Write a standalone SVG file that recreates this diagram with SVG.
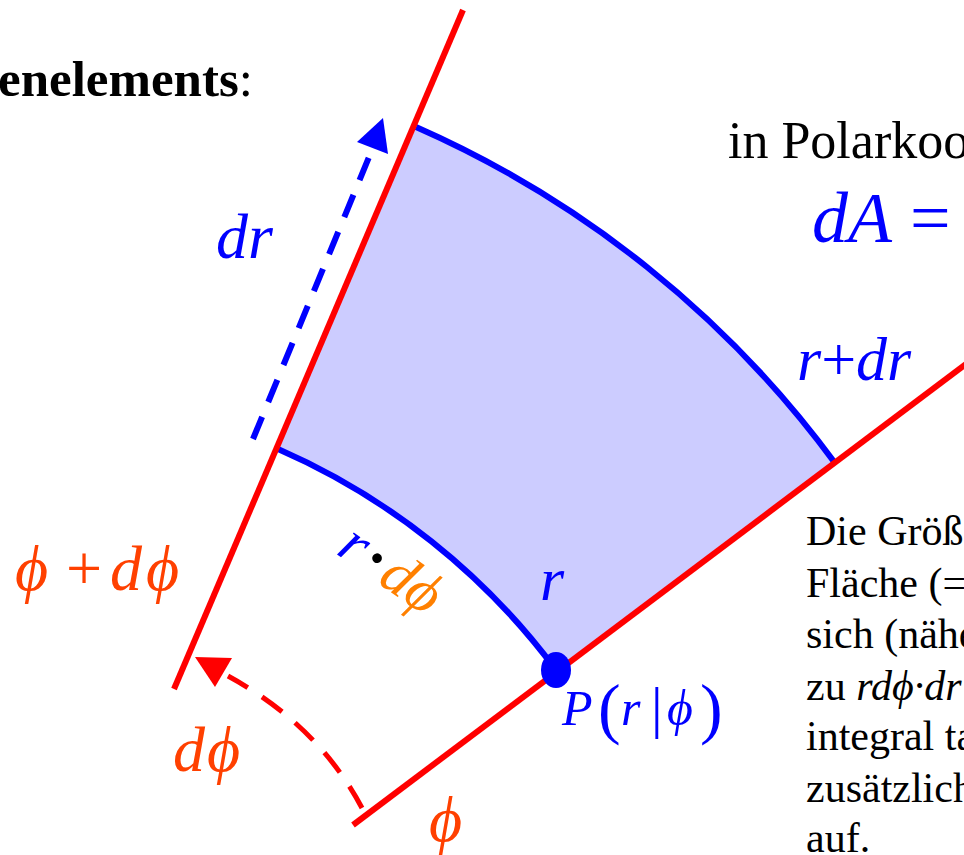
<svg xmlns="http://www.w3.org/2000/svg" width="964" height="855" viewBox="0 0 964 855">
<style>
.t{font-family:"Liberation Serif","DejaVu Serif",serif}
.i{font-style:italic}
.blue{fill:#0000ff}
.red{fill:#ff4000}
.org{fill:#ff8000}
.blk{fill:#000000}
.rl{stroke:#ff0000;stroke-width:6;fill:none}
.bl{stroke:#0000ff;stroke-width:6;fill:none}
</style>
<rect width="964" height="855" fill="#ffffff"/>
<g id="area-element">
<path d="M278,449 L416,127 A1040,1040 0 0 1 835,463 L556,670 A691,691 0 0 0 278,449 Z" fill="#ccccff"/>
<path class="bl" d="M416,127 A1040,1040 0 0 1 835,463"/>
<path class="bl" d="M278,449 A691,691 0 0 1 556,670"/>
</g>
<g id="axes">
<line class="rl" x1="463" y1="10" x2="174" y2="689"/>
<line class="rl" x1="353" y1="825" x2="970" y2="361"/>
</g>
<g id="connectors">
<line x1="253" y1="439" x2="376" y2="140" stroke="#0000ff" stroke-width="6" stroke-dasharray="24 16"/>
<polygon points="383,118 357,142 388,154" fill="#0000ff"/>
<path d="M362,808 Q318,725 228,676" fill="none" stroke="#ff0000" stroke-width="5" stroke-dasharray="25 17"/>
<polygon points="195,657 232,658 215,687" fill="#ff0000"/>
</g>
<g id="point-P">
<ellipse cx="556" cy="670" rx="15" ry="18" fill="#0000ff"/>
</g>
<g id="labels">
<text class="t blk" x="-2" y="96" font-size="51"><tspan font-weight="bold">enelements</tspan>:</text>
<text class="t blk" x="728" y="158" font-size="52">in Polarkoo</text>
<text class="t blue" x="812" y="242" font-size="72"><tspan class="i">dA</tspan> =</text>
<text class="t blue i" x="216" y="258" font-size="64">dr</text>
<text class="t blue" x="797" y="380" font-size="62"><tspan class="i">r</tspan>+<tspan class="i">dr</tspan></text>
<text class="t blue i" x="540" y="600" font-size="62">r</text>
<text class="t blue" y="725" font-size="50"><tspan class="i" x="562">P</tspan><tspan x="598" font-size="68" y="731">(</tspan><tspan class="i" x="621" y="725">r</tspan><tspan x="651" y="727" font-size="58">|</tspan><tspan class="i" x="667" y="725">ϕ</tspan><tspan x="700" font-size="68" y="731">)</tspan></text>
<text class="t" font-size="60" transform="translate(335,553) rotate(35)"><tspan class="i blue">r</tspan><tspan class="blk" dx="4" font-weight="bold">·</tspan><tspan class="i org" dx="3">dϕ</tspan></text>
<text class="t red" y="590" font-size="64"><tspan class="i" x="15">ϕ</tspan><tspan x="66">+</tspan><tspan class="i" x="110">d</tspan><tspan class="i" x="146">ϕ</tspan></text>
<text class="t red i" y="771" font-size="64"><tspan x="173">d</tspan><tspan x="207">ϕ</tspan></text>
<text class="t red i" x="429" y="841" font-size="64">ϕ</text>
</g>
<g id="description" class="t blk" font-size="42">
<text x="806" y="545">Die Größ</text>
<text x="806" y="597">Fläche (=</text>
<text x="806" y="648">sich (nähe</text>
<text x="806" y="700">zu <tspan class="i">rdϕ·dr</tspan></text>
<text x="806" y="750">integral ta</text>
<text x="806" y="802">zusätzlich</text>
<text x="806" y="852">auf.</text>
</g>
</svg>
